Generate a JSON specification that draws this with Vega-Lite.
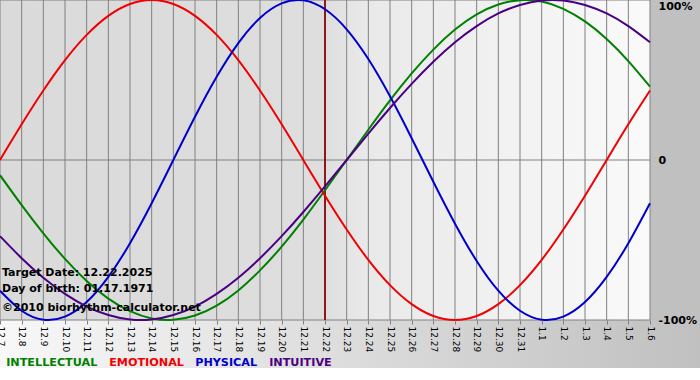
{
  "$schema": "https://vega.github.io/schema/vega-lite/v6.json",
  "width": 650,
  "height": 320,
  "padding": {"left": 0, "top": 0, "right": 50, "bottom": 60},
  "autosize": {"type": "none"},
  "background": "white",
  "config": {"view": {"stroke": null}, "font": "DejaVu Sans"},
  "datasets": {
    "bio": [
      {"day": "12.7", "INTELLECTUAL": -9.5, "EMOTIONAL": 0, "PHYSICAL": -81.7, "INTUITIVE": -47.6},
      {"day": "12.8", "INTELLECTUAL": -28.2, "EMOTIONAL": 22.3, "PHYSICAL": -94.2, "INTUITIVE": -61.4},
      {"day": "12.9", "INTELLECTUAL": -45.8, "EMOTIONAL": 43.4, "PHYSICAL": -99.8, "INTUITIVE": -73.6},
      {"day": "12.10", "INTELLECTUAL": -61.8, "EMOTIONAL": 62.4, "PHYSICAL": -97.9, "INTUITIVE": -83.7},
      {"day": "12.11", "INTELLECTUAL": -75.6, "EMOTIONAL": 78.2, "PHYSICAL": -88.8, "INTUITIVE": -91.6},
      {"day": "12.12", "INTELLECTUAL": -86.6, "EMOTIONAL": 90.1, "PHYSICAL": -73.1, "INTUITIVE": -96.9},
      {"day": "12.13", "INTELLECTUAL": -94.5, "EMOTIONAL": 97.5, "PHYSICAL": -52.0, "INTUITIVE": -99.7},
      {"day": "12.14", "INTELLECTUAL": -99.0, "EMOTIONAL": 100, "PHYSICAL": -27.0, "INTUITIVE": -99.7},
      {"day": "12.15", "INTELLECTUAL": -99.9, "EMOTIONAL": 97.5, "PHYSICAL": 0, "INTUITIVE": -96.9},
      {"day": "12.16", "INTELLECTUAL": -97.2, "EMOTIONAL": 90.1, "PHYSICAL": 27.0, "INTUITIVE": -91.6},
      {"day": "12.17", "INTELLECTUAL": -91.0, "EMOTIONAL": 78.2, "PHYSICAL": 52.0, "INTUITIVE": -83.7},
      {"day": "12.18", "INTELLECTUAL": -81.5, "EMOTIONAL": 62.4, "PHYSICAL": 73.1, "INTUITIVE": -73.6},
      {"day": "12.19", "INTELLECTUAL": -69.0, "EMOTIONAL": 43.4, "PHYSICAL": 88.8, "INTUITIVE": -61.4},
      {"day": "12.20", "INTELLECTUAL": -54.1, "EMOTIONAL": 22.3, "PHYSICAL": 97.9, "INTUITIVE": -47.6},
      {"day": "12.21", "INTELLECTUAL": -37.2, "EMOTIONAL": 0, "PHYSICAL": 99.8, "INTUITIVE": -32.5},
      {"day": "12.22", "INTELLECTUAL": -18.9, "EMOTIONAL": -22.3, "PHYSICAL": 94.2, "INTUITIVE": -16.5},
      {"day": "12.23", "INTELLECTUAL": 0, "EMOTIONAL": -43.4, "PHYSICAL": 81.7, "INTUITIVE": 0},
      {"day": "12.24", "INTELLECTUAL": 18.9, "EMOTIONAL": -62.4, "PHYSICAL": 63.1, "INTUITIVE": 16.5},
      {"day": "12.25", "INTELLECTUAL": 37.2, "EMOTIONAL": -78.2, "PHYSICAL": 39.8, "INTUITIVE": 32.5},
      {"day": "12.26", "INTELLECTUAL": 54.1, "EMOTIONAL": -90.1, "PHYSICAL": 13.6, "INTUITIVE": 47.6},
      {"day": "12.27", "INTELLECTUAL": 69.0, "EMOTIONAL": -97.5, "PHYSICAL": -13.6, "INTUITIVE": 61.4},
      {"day": "12.28", "INTELLECTUAL": 81.5, "EMOTIONAL": -100, "PHYSICAL": -39.8, "INTUITIVE": 73.6},
      {"day": "12.29", "INTELLECTUAL": 91.0, "EMOTIONAL": -97.5, "PHYSICAL": -63.1, "INTUITIVE": 83.7},
      {"day": "12.30", "INTELLECTUAL": 97.2, "EMOTIONAL": -90.1, "PHYSICAL": -81.7, "INTUITIVE": 91.6},
      {"day": "12.31", "INTELLECTUAL": 99.9, "EMOTIONAL": -78.2, "PHYSICAL": -94.2, "INTUITIVE": 96.9},
      {"day": "1.1", "INTELLECTUAL": 99.0, "EMOTIONAL": -62.4, "PHYSICAL": -99.8, "INTUITIVE": 99.7},
      {"day": "1.2", "INTELLECTUAL": 94.5, "EMOTIONAL": -43.4, "PHYSICAL": -97.9, "INTUITIVE": 99.7},
      {"day": "1.3", "INTELLECTUAL": 86.6, "EMOTIONAL": -22.3, "PHYSICAL": -88.8, "INTUITIVE": 96.9},
      {"day": "1.4", "INTELLECTUAL": 75.6, "EMOTIONAL": 0, "PHYSICAL": -73.1, "INTUITIVE": 91.6},
      {"day": "1.5", "INTELLECTUAL": 61.8, "EMOTIONAL": 22.3, "PHYSICAL": -52.0, "INTUITIVE": 83.7},
      {"day": "1.6", "INTELLECTUAL": 45.8, "EMOTIONAL": 43.4, "PHYSICAL": -27.0, "INTUITIVE": 73.6}
    ],
    "one": [{}]
  },
  "data": {"name": "bio"},
  "layer": [
    {
      "data": {"name": "one"},
      "mark": {"type": "rect", "fill": {"gradient": "linear", "x1": 0, "x2": 1, "y1": 0, "y2": 0, "stops": [{"offset": 0, "color": "#f8f8f8"}, {"offset": 1, "color": "#c0c0c0"}]}, "x2Offset": 50},
      "encoding": {
        "x": {"datum": "12.7"},
        "x2": {"datum": "1.6"},
        "y": {"datum": -100, "scale": {"domain": [-100, 100]}},
        "y2": {"datum": -130}
      }
    },
    {
      "data": {"name": "one"},
      "mark": {"type": "rect", "fill": "#c0c0c0", "x2Offset": 50},
      "encoding": {
        "x": {"datum": "1.6"},
        "x2": {"datum": "1.6"},
        "y": {"datum": 100, "scale": {"domain": [-100, 100]}},
        "y2": {"datum": -100}
      }
    },
    {
      "data": {"name": "one"},
      "mark": {"type": "rect", "fill": {"gradient": "linear", "x1": 0, "x2": 1, "y1": 0, "y2": 0, "stops": [{"offset": 0, "color": "#dadada"}, {"offset": 0.5, "color": "#dedede"}, {"offset": 0.56, "color": "#e9e9e9"}, {"offset": 1, "color": "#fafafa"}]}},
      "encoding": {
        "x": {"datum": "12.7"},
        "x2": {"datum": "1.6"},
        "y": {"datum": 100, "scale": {"domain": [-100, 100]}},
        "y2": {"datum": -100}
      }
    },
    {
      "mark": {"type": "rule", "color": "#808080", "strokeWidth": 1},
      "encoding": {"x": {"field": "day", "type": "nominal"}}
    },
    {
      "data": {"name": "one"},
      "mark": {"type": "rule", "color": "#808080", "strokeWidth": 1},
      "encoding": {"y": {"datum": 0}}
    },
    {
      "data": {"name": "one"},
      "mark": {"type": "rule", "color": "#808080", "strokeWidth": 1},
      "encoding": {"y": {"datum": 100}}
    },
    {
      "data": {"name": "one"},
      "mark": {"type": "rule", "color": "#808080", "strokeWidth": 1},
      "encoding": {"y": {"datum": -100}}
    },
    {
      "data": {"name": "one"},
      "mark": {"type": "rule", "color": "#8b1a1a", "strokeWidth": 2},
      "encoding": {"x": {"datum": "12.22"}}
    },
    {
      "transform": [{"fold": ["INTELLECTUAL", "EMOTIONAL", "PHYSICAL", "INTUITIVE"], "as": ["series", "val"]}],
      "mark": {"type": "line", "strokeWidth": 2, "interpolate": "natural"},
      "encoding": {
        "x": {
          "field": "day", "type": "nominal",
          "scale": {"type": "point", "padding": 0, "domain": ["12.7","12.8","12.9","12.10","12.11","12.12","12.13","12.14","12.15","12.16","12.17","12.18","12.19","12.20","12.21","12.22","12.23","12.24","12.25","12.26","12.27","12.28","12.29","12.30","12.31","1.1","1.2","1.3","1.4","1.5","1.6"]},
          "axis": {"orient": "bottom", "title": null, "grid": false, "domain": false, "labelAngle": 90, "labelAlign": "left", "labelBaseline": "middle", "labelFontSize": 9, "labelFont": "DejaVu Sans", "labelColor": "#000000", "tickColor": "#808080", "tickSize": 4, "labelPadding": 2, "zindex": 1, "labelOverlap": false}
        },
        "y": {
          "field": "val", "type": "quantitative",
          "scale": {"domain": [-100, 100]},
          "axis": {"orient": "right", "title": null, "grid": false, "domain": false, "ticks": false, "values": [-100, 0, 100], "labelExpr": "datum.value == 0 ? '0' : datum.value + '%'", "labelFontSize": 11, "labelFontWeight": "bold", "labelFont": "DejaVu Sans", "labelColor": "#000000", "labelPadding": 8, "labelFlush": false, "labelBaseline": {"condition": {"test": "datum.value == 100", "value": "top"}, "value": "middle"}, "zindex": 1}
        },
        "color": {
          "field": "series", "type": "nominal",
          "scale": {"domain": ["INTELLECTUAL", "EMOTIONAL", "PHYSICAL", "INTUITIVE"], "range": ["#008000", "#f00000", "#0000cc", "#4b0082"]},
          "legend": {"orient": "none", "legendX": -5, "legendY": 357, "direction": "horizontal", "title": null, "symbolSize": 0, "symbolStrokeWidth": 0, "symbolOpacity": 0, "labelOffset": 0, "columnPadding": -11, "labelFontSize": 11.2, "labelFontWeight": "bold", "labelFont": "DejaVu Sans", "encode": {"labels": {"update": {"fill": {"signal": "scale('color', datum.value)"}}}}}
        }
      }
    },
    {
      "data": {"name": "one"},
      "mark": {"type": "text", "align": "left", "baseline": "alphabetic", "fontSize": 11, "fontWeight": "bold", "font": "DejaVu Sans", "color": "#000000", "dx": 2, "text": "Target Date: 12.22.2025"},
      "encoding": {"x": {"datum": "12.7"}, "y": {"datum": -72.8}}
    },
    {
      "data": {"name": "one"},
      "mark": {"type": "text", "align": "left", "baseline": "alphabetic", "fontSize": 11, "fontWeight": "bold", "font": "DejaVu Sans", "color": "#000000", "dx": 2, "text": "Day of birth: 01.17.1971"},
      "encoding": {"x": {"datum": "12.7"}, "y": {"datum": -82.2}}
    },
    {
      "data": {"name": "one"},
      "mark": {"type": "text", "align": "left", "baseline": "alphabetic", "fontSize": 11, "fontWeight": "bold", "font": "DejaVu Sans", "color": "#000000", "dx": 2, "text": "©2010 biorhythm-calculator.net"},
      "encoding": {"x": {"datum": "12.7"}, "y": {"datum": -94.4}}
    }
  ]
}
